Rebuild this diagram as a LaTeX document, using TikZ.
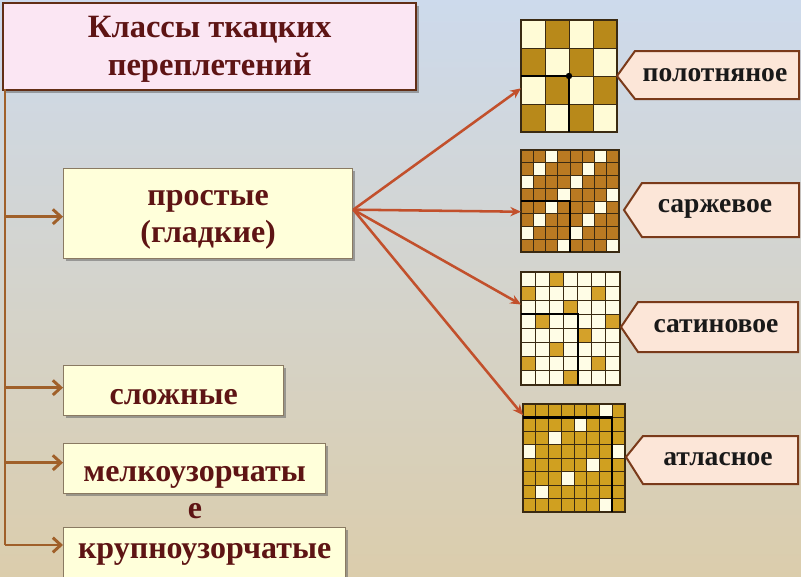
\documentclass[tikz,border=0pt]{standalone}
\usepackage{fontspec}
\setmainfont{Liberation Serif}
\usetikzlibrary{arrows.meta,calc,shadows}
\definecolor{bgtop}{HTML}{CDDAEC}
\definecolor{bgmid}{HTML}{E3E1D8}
\definecolor{bgbot}{HTML}{DBCDAC}
\definecolor{titlefill}{HTML}{FBE6F3}
\definecolor{boxfill}{HTML}{FFFFDA}
\definecolor{boxdraw}{HTML}{8A7A62}
\definecolor{txt}{HTML}{5E1414}
\definecolor{trunkc}{HTML}{A0602A}
\definecolor{rayc}{HTML}{C2502C}
\definecolor{labfill}{HTML}{FCE6D8}
\definecolor{labdraw}{HTML}{7A3A1A}
\definecolor{plaindark}{HTML}{B8891A}
\definecolor{plainlight}{HTML}{FFFBD6}
\definecolor{twilldark}{HTML}{BA7A22}
\definecolor{satindark}{HTML}{D4A12A}
\definecolor{atlasdark}{HTML}{D0A020}
\definecolor{celllight}{HTML}{FFFDE6}
\definecolor{gridc}{HTML}{3A2A12}
\begin{document}
\begin{tikzpicture}[x=0.75pt,y=-0.75pt,
  classbox/.style={draw=boxdraw, line width=1pt, fill=boxfill, inner sep=0pt,
    anchor=north west,
    drop shadow={shadow xshift=1.8pt, shadow yshift=-1.8pt, fill=black!60, opacity=.55}},
  boxtext/.style={inner sep=0pt, text=txt, align=center,
    font=\bfseries\fontsize{24}{28}\selectfont},
  titlebox/.style={draw=labdraw!80!black, line width=1.8pt, fill=titlefill, inner sep=0pt,
    anchor=north west,
    drop shadow={shadow xshift=1.8pt, shadow yshift=-1.8pt, fill=black!60, opacity=.55}},
  titletext/.style={inner sep=0pt, text=txt, align=center,
    font=\bfseries\fontsize{24.4}{28.5}\selectfont},
  trunkline/.style={draw=trunkc, line width=2.2pt},
  trunkarrow/.style={draw=trunkc, line width=2.2pt, -{Straight Barb[length=6pt,width=11pt,line width=2.2pt]}},
  rayarrow/.style={draw=rayc, line width=1.9pt, -{Stealth[length=8pt,width=7pt]}},
  labshape/.style={draw=labdraw, line width=1.5pt, fill=labfill},
  labtext/.style={inner sep=0pt, text=black!90, font=\bfseries\fontsize{20.7}{22}\selectfont},
  gridl/.style={draw=gridc, line width=0.6pt},
  thickl/.style={draw=black, line width=1.6pt},
  gridbox/.style={inner sep=0pt, anchor=north west}
]
\useasboundingbox (0,0) rectangle (801,576);
\clip (0,0) rectangle (801,576);
\shade[top color=bgtop, middle color=bgmid, bottom color=bgbot] (0,0) rectangle (801,576);

% title
\node[titlebox, minimum width=413*0.75pt, minimum height=87*0.75pt] (title) at (2,2) {};
\node[titletext] (titletxt) at ($(title.center)+(0,3)$) {Классы ткацких\\переплетений};

% class boxes
\node[classbox, minimum width=289*0.75pt, minimum height=90*0.75pt] (simple) at (63,168) {};
\node[boxtext] (simpletxt) at ($(simple.center)+(0,6)$) {простые\\(гладкие)};
\node[classbox, minimum width=220*0.75pt, minimum height=50*0.75pt] (complex) at (63,365) {};
\node[boxtext] (complextxt) at ($(complex.center)+(0,6)$) {сложные};
\node[classbox, minimum width=262*0.75pt, minimum height=50*0.75pt] (small) at (63,443) {};
\node[boxtext] (smalltxt) at ($(small.center)+(0,9)$) {мелкоузорчаты};
\node[boxtext] (esuffix) at (195,511) {е};
\node[classbox, minimum width=282*0.75pt, minimum height=50*0.75pt] (large) at (63,527) {};
\node[boxtext] (largetxt) at ($(large.center)+(0,2)$) {крупноузорчатые};

% trunk
\coordinate (ttop) at (5,89);
\coordinate (tbot) at (5,545);
\draw[trunkline] (ttop) -- (tbot);
\draw[trunkarrow] ($(ttop |- simple.west)+(0,3)$) -- ($(simple.west)+(0,3)$);
\draw[trunkarrow] ($(ttop |- complex.west)+(0,-3)$) -- ($(complex.west)+(0,-3)$);
\draw[trunkarrow] ($(ttop |- small.west)+(0,-6)$) -- ($(small.west)+(0,-6)$);
\draw[trunkarrow] (tbot) -- (tbot -| large.west);

% grid 1: plain weave 4x4
\foreach \r in {0,...,3}{\foreach \c in {0,...,3}{
  \pgfmathtruncatemacro\k{mod(\r+\c,2)}
  \ifnum\k=1 \def\cc{plaindark}\else\def\cc{plainlight}\fi
  \fill[\cc] (521+\c*24,20+\r*28) rectangle ++(24,28);
}}
\foreach \i in {0,...,4}{\draw[gridl] (521+\i*24,20) -- (521+\i*24,132);
  \draw[gridl] (521,20+\i*28) -- (617,20+\i*28);}
\draw[gridl, line width=0.9pt] (521,20) rectangle (617,132);
\draw[thickl] (521,76) -- (569,76) -- (569,132);
\fill[black] (569,76) circle (3.2);
\node[gridbox, minimum width=96*0.75pt, minimum height=112*0.75pt] (g1) at (521,20) {};

% grid 2: twill 8x8
\foreach \r in {0,...,7}{\foreach \c in {0,...,7}{
  \pgfmathtruncatemacro\k{mod(\r+\c,4)}
  \ifnum\k=2 \def\cc{celllight}\else\def\cc{twilldark}\fi
  \fill[\cc] (521+\c*12.25,150+\r*12.75) rectangle ++(12.25,12.75);
}}
\foreach \i in {0,...,8}{\draw[gridl] (521+\i*12.25,150) -- (521+\i*12.25,252);
  \draw[gridl] (521,150+\i*12.75) -- (619,150+\i*12.75);}
\draw[gridl, line width=0.9pt] (521,150) rectangle (619,252);
\draw[thickl] (521,201) -- (570,201) -- (570,252);
\node[gridbox, minimum width=98*0.75pt, minimum height=102*0.75pt] (g2) at (521,150) {};

% grid 3: satin 7x8
\foreach \r in {0,...,7}{\foreach \c in {0,...,6}{
  \pgfmathtruncatemacro\k{mod(\c+2*\r,5)}
  \ifnum\k=2 \def\cc{satindark}\else\def\cc{celllight}\fi
  \fill[\cc] (521+\c*14.14,272+\r*14.125) rectangle ++(14.14,14.125);
}}
\foreach \i in {0,...,7}{\draw[gridl] (521+\i*14.14,272) -- (521+\i*14.14,385);}
\foreach \i in {0,...,8}{\draw[gridl] (521,272+\i*14.125) -- (620,272+\i*14.125);}
\draw[gridl, line width=0.9pt] (521,272) rectangle (620,385);
\draw[thickl] (521,314.4) -- (577.6,314.4) -- (577.6,385);
\node[gridbox, minimum width=99*0.75pt, minimum height=113*0.75pt] (g3) at (521,272) {};

% grid 4: sateen 8x8
\foreach \r in {0,...,7}{\foreach \c in {0,...,7}{
  \pgfmathtruncatemacro\k{mod(\c+2*\r,7)}
  \ifnum\k=6 \def\cc{celllight}\else\def\cc{atlasdark}\fi
  \fill[\cc] (523+\c*12.75,404+\r*13.5) rectangle ++(12.75,13.5);
}}
\foreach \i in {0,...,8}{\draw[gridl] (523+\i*12.75,404) -- (523+\i*12.75,512);
  \draw[gridl] (523,404+\i*13.5) -- (625,404+\i*13.5);}
\draw[gridl, line width=0.9pt] (523,404) rectangle (625,512);
\draw[thickl] (523,417.5) -- (612.25,417.5) -- (612.25,512);
\node[gridbox, minimum width=102*0.75pt, minimum height=108*0.75pt] (g4) at (523,404) {};

% rays
\coordinate (hub) at ($(simple.east)+(0,-4)$);
\draw[rayarrow] (hub) -- (g1.194);
\draw[rayarrow] (hub) -- (g2.192.7);
\draw[rayarrow] (hub) -- (g3.154.6);
\draw[rayarrow] (hub) -- (g4.140);

% labels
\draw[labshape] (617,76) -- (635,51) -- (799,51) -- (799,99) -- (635,99) -- cycle;
\node[labtext] (l1) at (715,75) {полотняное};
\draw[labshape] (624,210) -- (642,183) -- (799,183) -- (799,237) -- (642,237) -- cycle;
\node[labtext] (l2) at (715,209) {саржевое};
\draw[labshape] (621,327) -- (638,302) -- (798,302) -- (798,352) -- (638,352) -- cycle;
\node[labtext] (l3) at (716,326) {сатиновое};
\draw[labshape] (626,457) -- (643,436) -- (798,436) -- (798,484) -- (643,484) -- cycle;
\node[labtext] (l4) at (718,459) {атласное};
\end{tikzpicture}
\end{document}
